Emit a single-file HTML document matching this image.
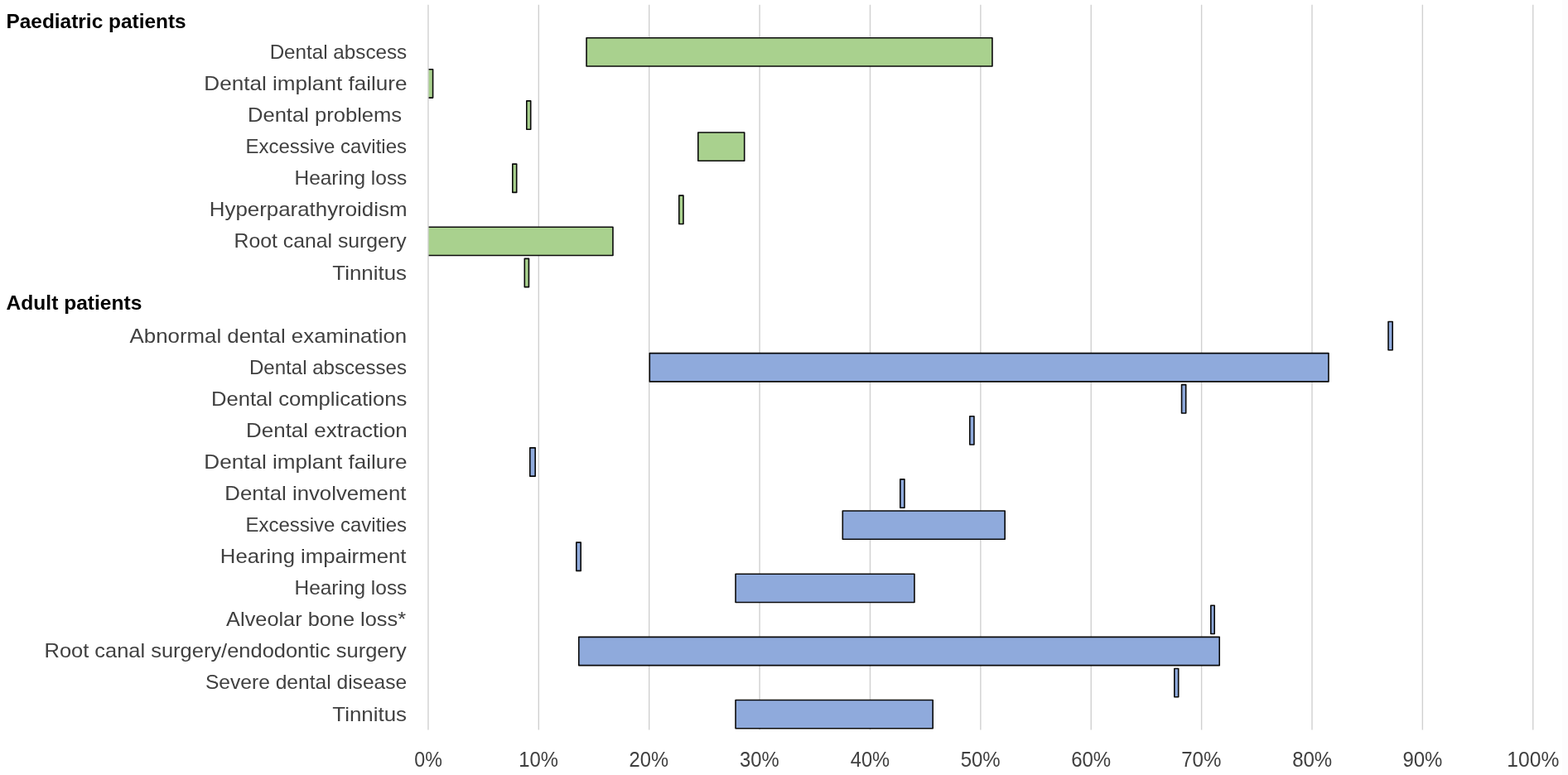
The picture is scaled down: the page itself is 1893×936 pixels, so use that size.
<!DOCTYPE html>
<html lang="en">
<head>
<meta charset="utf-8">
<title>Dental and hearing outcomes in paediatric and adult patients</title>
<style>
html,body{margin:0;padding:0;background:#fff;}
body{width:1893px;height:936px;overflow:hidden;}
svg{display:block;}
text{font-family:"Liberation Sans",sans-serif;}
.cat{font-size:24.0px;fill:#404040;}
.tick{font-size:25.6px;fill:#404040;}
.hdr{font-size:23.8px;font-weight:bold;fill:#000;}
.grid line{stroke:#d0d0d0;stroke-width:1.4;}
.bar{stroke:#0a0a0a;stroke-width:1.6;stroke-linejoin:round;}
</style>
</head>
<body>
<svg width="1893" height="936" viewBox="0 0 1893 936" role="img" aria-label="Range bar chart">
<rect x="0" y="0" width="1893" height="936" fill="#ffffff"/>
<rect x="1886" y="0" width="7" height="936" fill="#fdfcfd"/>
<g class="grid">
<line x1="650.33" y1="5.75" x2="650.33" y2="881.50"/>
<line x1="783.71" y1="5.75" x2="783.71" y2="881.50"/>
<line x1="917.09" y1="5.75" x2="917.09" y2="881.50"/>
<line x1="1050.47" y1="5.75" x2="1050.47" y2="881.50"/>
<line x1="1183.85" y1="5.75" x2="1183.85" y2="881.50"/>
<line x1="1317.23" y1="5.75" x2="1317.23" y2="881.50"/>
<line x1="1450.61" y1="5.75" x2="1450.61" y2="881.50"/>
<line x1="1583.99" y1="5.75" x2="1583.99" y2="881.50"/>
<line x1="1717.37" y1="5.75" x2="1717.37" y2="881.50"/>
<line x1="1850.75" y1="5.75" x2="1850.75" y2="881.50"/>
</g>
<g class="bars">
<rect class="bar" x="708.05" y="45.74" width="489.90" height="34.30" fill="#a9d18e"/>
<path class="bar" d="M516.95 83.82H522.60V118.12H516.95" fill="#a9d18e"/>
<rect class="bar" x="635.80" y="121.91" width="4.90" height="34.30" fill="#a9d18e"/>
<rect class="bar" x="842.80" y="159.99" width="55.90" height="34.30" fill="#a9d18e"/>
<rect class="bar" x="618.80" y="198.08" width="4.90" height="34.30" fill="#a9d18e"/>
<rect class="bar" x="819.80" y="236.16" width="5.15" height="34.30" fill="#a9d18e"/>
<path class="bar" d="M516.95 274.25H739.95V308.55H516.95" fill="#a9d18e"/>
<rect class="bar" x="633.30" y="312.33" width="5.15" height="34.30" fill="#a9d18e"/>
<rect class="bar" x="1676.05" y="388.50" width="5.15" height="34.30" fill="#8faadc"/>
<rect class="bar" x="784.30" y="426.59" width="819.65" height="34.30" fill="#8faadc"/>
<rect class="bar" x="1426.55" y="464.67" width="5.15" height="34.30" fill="#8faadc"/>
<rect class="bar" x="1170.80" y="502.75" width="5.15" height="34.30" fill="#8faadc"/>
<rect class="bar" x="639.80" y="540.84" width="6.40" height="34.30" fill="#8faadc"/>
<rect class="bar" x="1086.80" y="578.92" width="5.15" height="34.30" fill="#8faadc"/>
<rect class="bar" x="1017.30" y="617.01" width="195.90" height="34.30" fill="#8faadc"/>
<rect class="bar" x="695.80" y="655.10" width="5.40" height="34.30" fill="#8faadc"/>
<rect class="bar" x="888.05" y="693.18" width="215.90" height="34.30" fill="#8faadc"/>
<rect class="bar" x="1461.80" y="731.26" width="4.40" height="34.30" fill="#8faadc"/>
<rect class="bar" x="698.80" y="769.35" width="773.40" height="34.30" fill="#8faadc"/>
<rect class="bar" x="1417.80" y="807.43" width="4.90" height="34.30" fill="#8faadc"/>
<rect class="bar" x="888.05" y="845.52" width="238.15" height="34.30" fill="#8faadc"/>
</g>
<g class="grid"><line x1="516.95" y1="5.75" x2="516.95" y2="881.50"/></g>
<g class="labels">
<text id="h0" class="hdr" x="7.45" y="34.00" textLength="217.23" lengthAdjust="spacingAndGlyphs">Paediatric patients</text>
<text id="h9" class="hdr" x="7.62" y="374.00" textLength="163.79" lengthAdjust="spacingAndGlyphs">Adult patients</text>
<text id="c1" class="cat" x="325.65" y="71.00" textLength="165.53" lengthAdjust="spacingAndGlyphs">Dental abscess</text>
<text id="c2" class="cat" x="246.35" y="109.00" textLength="245.14" lengthAdjust="spacingAndGlyphs">Dental implant failure</text>
<text id="c3" class="cat" x="298.98" y="147.00" textLength="186.16" lengthAdjust="spacingAndGlyphs">Dental problems</text>
<text id="c4" class="cat" x="296.53" y="185.00" textLength="194.46" lengthAdjust="spacingAndGlyphs">Excessive cavities</text>
<text id="c5" class="cat" x="355.49" y="223.00" textLength="135.85" lengthAdjust="spacingAndGlyphs">Hearing loss</text>
<text id="c6" class="cat" x="252.80" y="261.00" textLength="238.66" lengthAdjust="spacingAndGlyphs">Hyperparathyroidism</text>
<text id="c7" class="cat" x="282.62" y="299.00" textLength="207.91" lengthAdjust="spacingAndGlyphs">Root canal surgery</text>
<text id="c8" class="cat" x="401.32" y="338.00" textLength="89.77" lengthAdjust="spacingAndGlyphs">Tinnitus</text>
<text id="c10" class="cat" x="156.61" y="414.00" textLength="334.51" lengthAdjust="spacingAndGlyphs">Abnormal dental examination</text>
<text id="c11" class="cat" x="300.92" y="452.00" textLength="190.06" lengthAdjust="spacingAndGlyphs">Dental abscesses</text>
<text id="c12" class="cat" x="254.97" y="490.00" textLength="236.37" lengthAdjust="spacingAndGlyphs">Dental complications</text>
<text id="c13" class="cat" x="297.06" y="528.00" textLength="194.73" lengthAdjust="spacingAndGlyphs">Dental extraction</text>
<text id="c14" class="cat" x="246.35" y="566.00" textLength="245.14" lengthAdjust="spacingAndGlyphs">Dental implant failure</text>
<text id="c15" class="cat" x="271.29" y="604.00" textLength="219.10" lengthAdjust="spacingAndGlyphs">Dental involvement</text>
<text id="c16" class="cat" x="296.53" y="642.00" textLength="194.46" lengthAdjust="spacingAndGlyphs">Excessive cavities</text>
<text id="c17" class="cat" x="265.80" y="680.00" textLength="224.63" lengthAdjust="spacingAndGlyphs">Hearing impairment</text>
<text id="c18" class="cat" x="355.49" y="718.00" textLength="135.85" lengthAdjust="spacingAndGlyphs">Hearing loss</text>
<text id="c19" class="cat" x="273.14" y="756.00" textLength="216.87" lengthAdjust="spacingAndGlyphs">Alveolar bone loss*</text>
<text id="c20" class="cat" x="53.50" y="794.00" textLength="437.15" lengthAdjust="spacingAndGlyphs">Root canal surgery/endodontic surgery</text>
<text id="c21" class="cat" x="247.93" y="832.00" textLength="243.29" lengthAdjust="spacingAndGlyphs">Severe dental disease</text>
<text id="c22" class="cat" x="401.32" y="871.00" textLength="89.77" lengthAdjust="spacingAndGlyphs">Tinnitus</text>
<text id="t0" class="tick" x="500.21" y="926.00" textLength="33.62" lengthAdjust="spacingAndGlyphs">0%</text>
<text id="t1" class="tick" x="626.25" y="926.00" textLength="47.73" lengthAdjust="spacingAndGlyphs">10%</text>
<text id="t2" class="tick" x="759.59" y="926.00" textLength="47.45" lengthAdjust="spacingAndGlyphs">20%</text>
<text id="t3" class="tick" x="893.09" y="926.00" textLength="47.61" lengthAdjust="spacingAndGlyphs">30%</text>
<text id="t4" class="tick" x="1026.79" y="926.00" textLength="47.36" lengthAdjust="spacingAndGlyphs">40%</text>
<text id="t5" class="tick" x="1159.69" y="926.00" textLength="48.02" lengthAdjust="spacingAndGlyphs">50%</text>
<text id="t6" class="tick" x="1293.13" y="926.00" textLength="48.06" lengthAdjust="spacingAndGlyphs">60%</text>
<text id="t7" class="tick" x="1426.23" y="926.00" textLength="48.18" lengthAdjust="spacingAndGlyphs">70%</text>
<text id="t8" class="tick" x="1560.14" y="926.00" textLength="48.07" lengthAdjust="spacingAndGlyphs">80%</text>
<text id="t9" class="tick" x="1693.41" y="926.00" textLength="47.91" lengthAdjust="spacingAndGlyphs">90%</text>
<text id="t10" class="tick" x="1819.37" y="926.00" textLength="62.89" lengthAdjust="spacingAndGlyphs">100%</text>
</g>
</svg>
</body>
</html>
